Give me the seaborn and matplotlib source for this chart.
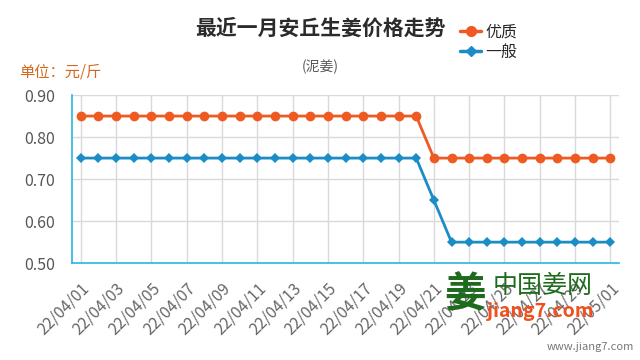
import pandas as pd
import numpy as np
import matplotlib
matplotlib.use("Agg")
import matplotlib.pyplot as plt
import seaborn as sns
from matplotlib.lines import Line2D

# daily prices, 22/04/01 .. 22/05/01
dates = [f"22/04/{d:02d}" for d in range(1, 31)] + ["22/05/01"]
premium = [0.85] * 20 + [0.75] * 11
ordinary = [0.75] * 20 + [0.65] + [0.55] * 10
series_names = ["优质", "一般"]
y_ticks = [0.50, 0.60, 0.70, 0.80, 0.90]

ORANGE = "#ee5a22"
BLUE = "#1b8cc6"
AXIS = "#2bb5e8"
GREY = "#555555"

sns.set_style("white")
plt.rcParams["font.family"] = ["Noto Sans CJK SC", "DejaVu Sans"]

df = pd.DataFrame({
    "idx": list(range(len(dates))) * 2,
    "price": premium + ordinary,
    "kind": [series_names[0]] * len(dates) + [series_names[1]] * len(dates),
})

fig = plt.figure(figsize=(6.4, 3.6), dpi=100)
ax = fig.add_axes([0.1125, 0.269, 0.855, 0.467])

sns.lineplot(data=df, x="idx", y="price", hue="kind", style="kind",
             palette=[ORANGE, BLUE], markers=["o", "D"], dashes=False,
             markersize=7, markeredgewidth=0, linewidth=2, ax=ax, legend=False)
# diamonds are a bit smaller
for line in ax.get_lines()[1:2]:
    line.set_markersize(5.5)

ax.set_xlim(-0.5, len(dates) - 0.5)
ax.set_ylim(0.5, 0.9)
ax.set_yticks(y_ticks)
ax.set_yticklabels([f"{v:.2f}" for v in y_ticks], color=GREY, fontsize=11.5)
tick_pos = list(range(0, len(dates), 2))
ax.set_xticks(tick_pos)
ax.set_xticklabels([dates[i] for i in tick_pos], rotation=45, ha="right",
                   rotation_mode="anchor", color="#666666", fontsize=11.5,
                   fontweight="light")
ax.set_xlabel("")
ax.set_ylabel("")

ax.grid(True, color="#d9d9d9", linewidth=1)
ax.set_axisbelow(True)
for side in ["top", "right"]:
    ax.spines[side].set_visible(False)
ax.spines["left"].set_color(AXIS)
ax.spines["bottom"].set_color(AXIS)
ax.spines["left"].set_linewidth(1.2)
ax.spines["bottom"].set_linewidth(1.2)
ax.tick_params(axis="both", length=9, color=AXIS, width=1.2, pad=3)

handles = [Line2D([], [], color=ORANGE, marker="o", markersize=7, lw=2.5),
           Line2D([], [], color=BLUE, marker="D", markersize=5.5, lw=2.5)]
fig.legend(handles, series_names, loc="upper left", bbox_to_anchor=(0.697, 0.975),
           frameon=False, fontsize=11.5, handlelength=1.3, handletextpad=0.25,
           labelspacing=0.2)

fig.text(0.5, 0.922, "最近一月安丘生姜价格走势", ha="center", va="center",
         fontsize=15, fontweight="bold", color="#2b2b2b")
fig.text(0.5, 0.815, "(泥姜)", ha="center", va="center", fontsize=10, color=GREY)
fig.text(0.03, 0.8, "单位：元/斤", ha="left", va="center", fontsize=11, color="#d2691e")

# watermark
fig.text(0.727, 0.18, "姜", ha="center", va="center", fontsize=30,
         color="#1e6b1e", fontweight="bold")
fig.text(0.848, 0.205, "中国姜网", ha="center", va="center", fontsize=18, color="#1e6b1e")
fig.text(0.845, 0.135, "jiang7.com", ha="center", va="center", fontsize=14,
         color="#f0501e", fontweight="bold", style="italic")
fig.text(0.99, 0.035, "www.jiang7.com", ha="right", va="center", fontsize=8, color="#777777")

fig.savefig("out.png", dpi=100)
